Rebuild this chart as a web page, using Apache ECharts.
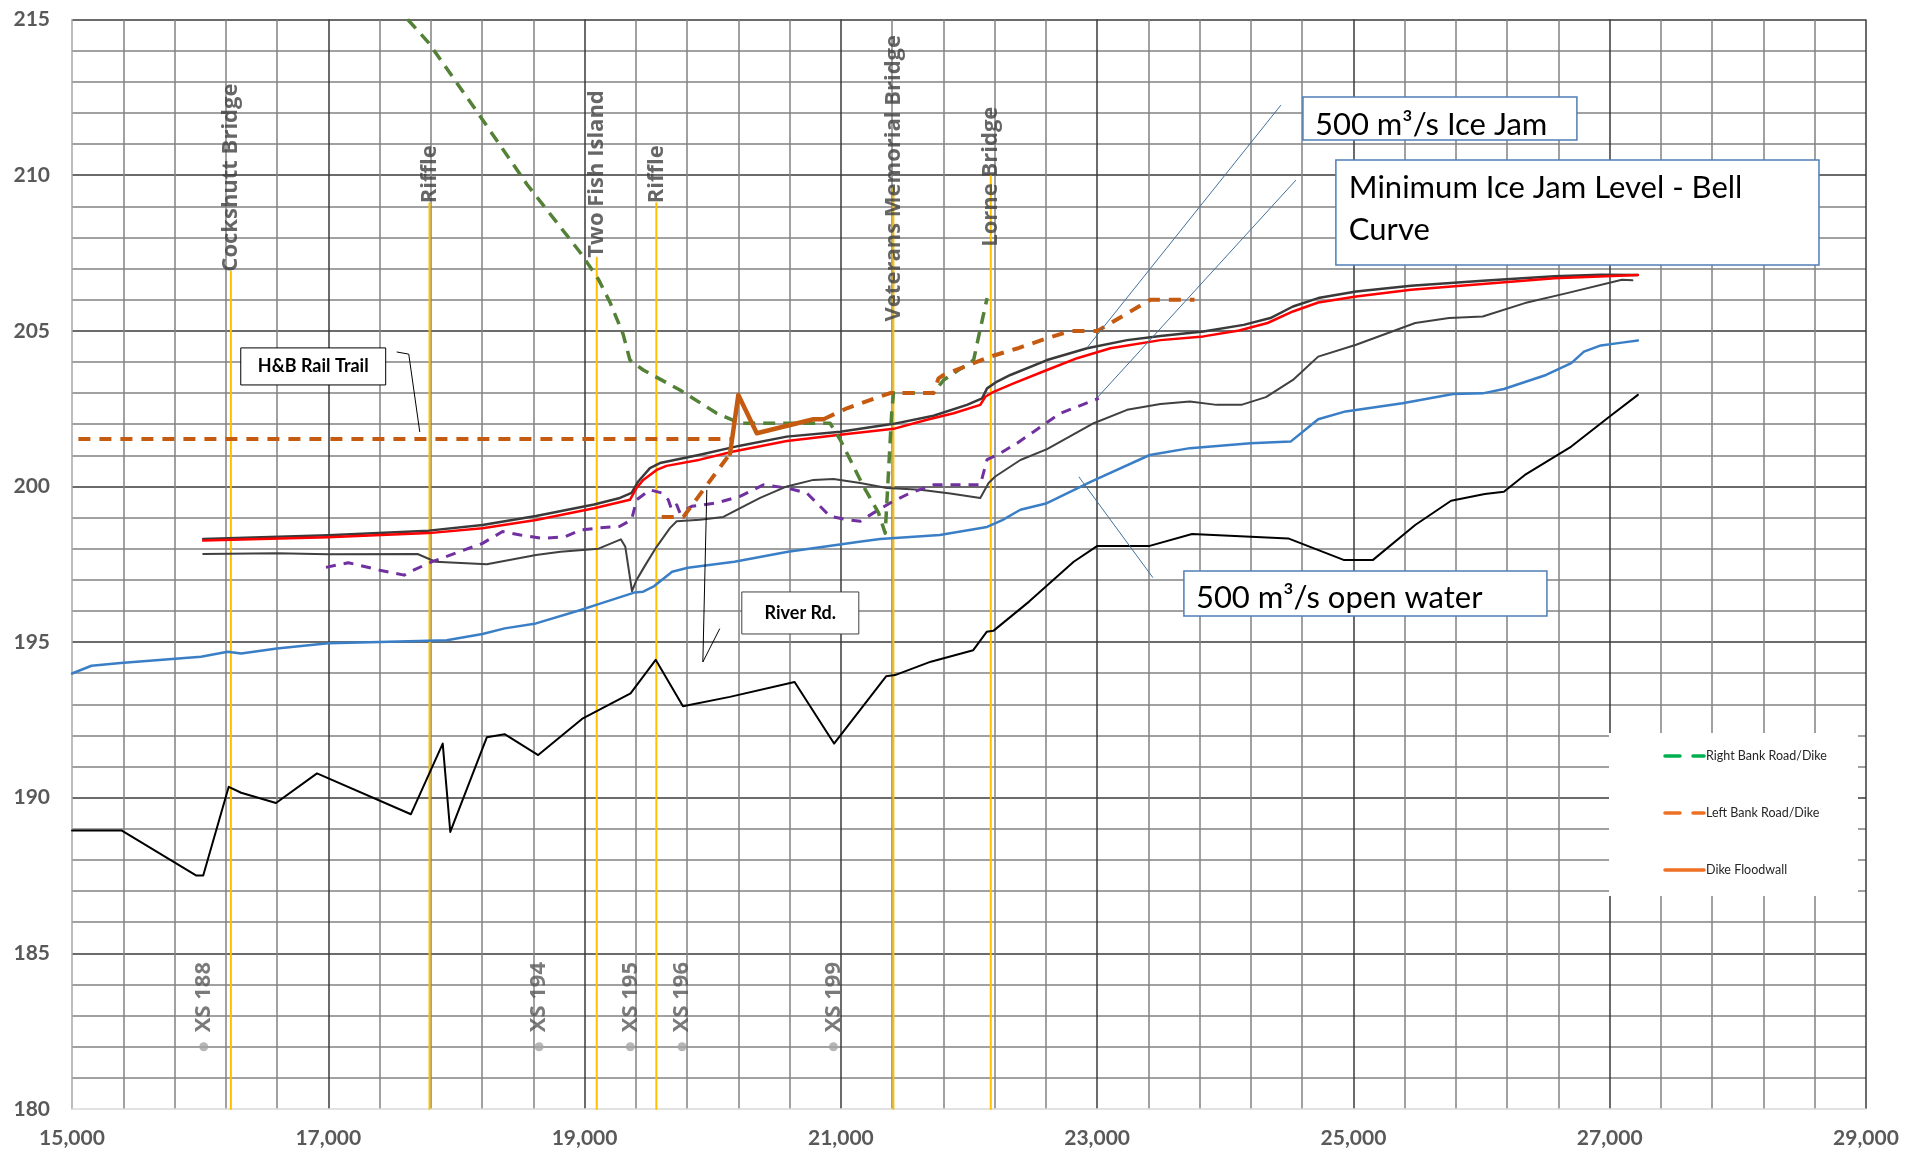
<!DOCTYPE html>
<html>
<head>
<meta charset="utf-8">
<title>Grand River Profile - Ice Jam Levels</title>
<script src="https://cdn.jsdelivr.net/npm/echarts@6/dist/echarts.min.js"></script>
<style>
  html, body { margin: 0; padding: 0; background: #ffffff; }
  #chart { width: 1911px; height: 1156px; }
</style>
</head>
<body>
<div id="chart"></div>
<script>
// Chainage (m) vs elevation (m) profile

// Channel bed (thalweg)
const channelBed = [
  [15000,188.95],[15386,188.95],[15971,187.5],[16024,187.5],[16223,190.35],[16320,190.16],
  [16592,189.83],[16912,190.78],[17645,189.47],[17893,191.74],[17952,188.9],[18237,191.94],
  [18376,192.04],[18638,191.37],[18987,192.55],[19359,193.35],[19555,194.43],[19768,192.94],
  [20134,193.24],[20639,193.72],[20947,191.74],[21353,193.9],[21423,193.94],[21702,194.37],
  [22033,194.74],[22138,195.33],[22190,195.36],[22469,196.3],[22817,197.58],[23002,198.09],
  [23410,198.09],[23741,198.47],[24491,198.33],[24923,197.64],[25153,197.64],[25482,198.76],
  [25762,199.54],[26025,199.76],[26174,199.83],[26338,200.37],[26700,201.28],[26997,202.24],
  [27220,202.94]
];

// 500 m3/s open water surface
const openWater500 = [
  [15000,193.99],[15152,194.24],[15379,194.33],[16006,194.53],[16215,194.69],[16320,194.63],
  [16599,194.79],[17000,194.96],[17401,195.0],[17924,195.06],[18203,195.26],[18377,195.44],
  [18621,195.6],[18969,196.03],[19109,196.22],[19387,196.59],[19457,196.62],[19544,196.8],
  [19683,197.26],[19806,197.39],[20169,197.58],[20587,197.9],[21144,198.22],[21307,198.31],
  [21772,198.44],[22141,198.7],[22260,198.92],[22401,199.25],[22608,199.46],[22957,200.16],
  [23410,201.01],[23724,201.23],[24198,201.39],[24510,201.44],[24725,202.16],[24939,202.41],
  [25383,202.67],[25778,202.97],[26009,202.99],[26174,203.13],[26503,203.58],[26700,203.96],
  [26799,204.33],[26931,204.53],[27095,204.62],[27220,204.69]
];

// 500 m3/s ice jam surface
const iceJam500 = [
  [16024,198.31],[17000,198.43],[17784,198.58],[18203,198.76],[18621,199.05],[19074,199.42],
  [19276,199.63],[19367,199.79],[19419,200.16],[19510,200.59],[19588,200.75],[19900,201.02],
  [20213,201.31],[20578,201.6],[20995,201.76],[21411,202.01],[21723,202.27],[21984,202.62],
  [22102,202.83],[22141,203.15],[22219,203.37],[22323,203.58],[22609,204.06],[22922,204.44],
  [23234,204.7],[23494,204.83],[23829,204.98],[24143,205.19],[24352,205.41],[24528,205.78],
  [24725,206.05],[25021,206.26],[25449,206.45],[26009,206.61],[26569,206.75],[26931,206.8],
  [27220,206.79]
];

// Ice jam surface (design)
const iceJamDesign = [
  [16024,198.26],[17000,198.37],[17784,198.5],[18203,198.66],[18621,198.92],[19074,199.3],
  [19354,199.57],[19406,199.95],[19458,200.21],[19562,200.53],[19640,200.66],[19900,200.86],
  [20161,201.12],[20578,201.46],[20995,201.66],[21411,201.85],[21672,202.14],[21880,202.35],
  [22088,202.62],[22127,202.88],[22192,203.04],[22348,203.31],[22609,203.74],[22844,204.12],
  [23104,204.44],[23494,204.7],[23829,204.82],[24108,205.01],[24330,205.25],[24528,205.62],
  [24725,205.91],[25021,206.1],[25449,206.32],[26009,206.5],[26569,206.69],[27220,206.79]
];

// Ice jam surface (lower run)
const iceJamLower = [
  [16024,197.83],[16599,197.85],[17000,197.82],[17697,197.83],[17837,197.58],[18237,197.5],
  [18621,197.8],[18812,197.9],[19109,198.0],[19283,198.3],[19318,198.06],[19370,196.64],
  [19405,196.99],[19475,197.48],[19562,198.06],[19666,198.66],[19719,198.88],[19900,198.93],
  [20083,199.02],[20188,199.25],[20370,199.63],[20578,200.0],[20786,200.21],[20942,200.24],
  [21151,200.11],[21359,199.95],[21620,199.89],[21854,199.77],[22088,199.63],[22153,200.11],
  [22205,200.32],[22401,200.85],[22609,201.2],[22973,202.03],[23234,202.46],[23494,202.65],
  [23724,202.73],[23932,202.62],[24125,202.62],[24317,202.87],[24528,203.42],[24725,204.17],
  [25021,204.55],[25482,205.25],[25746,205.41],[26009,205.46],[26338,205.89],[26667,206.21],
  [27095,206.64],[27177,206.62]
];

// Minimum ice jam level - bell curve
const minIceJamBell = [
  [16982,197.4],[17156,197.55],[17401,197.31],[17592,197.15],[17640,197.26],[17801,197.57],
  [18203,198.17],[18360,198.55],[18499,198.44],[18674,198.33],[18849,198.39],[18969,198.6],
  [19120,198.67],[19276,198.72],[19367,198.93],[19406,199.57],[19510,199.89],[19602,199.79],
  [19653,199.57],[19680,199.25],[19719,199.41],[19744,199.15],[19836,199.36],[20031,199.47],
  [20213,199.68],[20395,200.05],[20578,199.95],[20734,199.79],[20916,199.04],[21047,198.93],
  [21151,198.88],[21255,199.15],[21385,199.47],[21541,199.79],[21723,200.05],[22088,200.05],
  [22141,200.86],[22245,201.07],[22375,201.39],[22505,201.76],[22713,202.35],[22844,202.56],
  [23013,202.83]
];

// Left bank road / dike: H&B Rail Trail reach and River Rd. reach
const leftBankRailTrail = [[15050,201.52],[20150,201.52]];
const leftBankRiverRd = [
  [19602,199.02],[19771,199.02],[20135,201.05]
];
const leftBankUpper = [
  [20864,202.16],[21047,202.51],[21385,203.0],[21723,203.0],[21762,203.47],[21802,203.58],
  [22036,203.96],[22166,204.17],[22375,204.43],[22609,204.76],[22791,204.99],[23000,204.99],
  [23234,205.56],[23416,206.0],[23760,206.0]
];

// Dike floodwall
const dikeFloodwall = [
  [20135,201.05],[20200,202.94],[20344,201.71],[20786,202.16],[20864,202.16]
];

// Right bank road / dike
const rightBank = [
  [17620,215.0],[17784,214.25],[18167,212.0],[18551,209.7],[18969,207.5],[19109,206.65],
  [19200,205.9],[19300,204.9],[19354,204.06],[19458,203.74],[19744,203.1],[20031,202.35],
  [20213,202.03],[20916,202.03],[20995,201.5],[21177,200.0],[21294,199.15],[21346,198.5],
  [21398,202.46],[21411,203.0],[21723,203.0],[21802,203.42],[22036,204.06],[22075,204.81],
  [22141,206.05]
];

// Landmarks along the reach
const landmarkNames = ['Cockshutt Bridge', 'Riffle', 'Two Fish Island', 'Riffle', 'Veterans Memorial Bridge', 'Lorne Bridge'];
const landmarkChainage = [16240, 17790, 19095, 19560, 21410, 22170];
const landmarkLineTop = [206.9, 209.1, 207.35, 209.1, 209.6, 210.0];
const landmarkLabelBase = [206.9, 209.1, 207.35, 209.1, 205.3, 207.7];

// Surveyed cross sections
const xsNames = ['XS 188', 'XS 194', 'XS 195', 'XS 196', 'XS 199'];
const xsChainage = [16028, 18645, 19357, 19761, 20942];
const xsMarkerElev = [182, 182, 182, 182, 182];

// Axis ranges
const xRange = [15000, 29000, 2000];
const yRange = [180, 215, 5];

const FONT_LABEL = 'Lato, "Open Sans", sans-serif';
const FONT_MARK = '"Open Sans", "DejaVu Sans", sans-serif';

function lineSeries(name, data, color, width, dash, z) {
  return {
    name: name,
    type: 'line',
    data: data,
    symbol: 'none',
    showSymbol: false,
    silent: true,
    animation: false,
    z: z,
    lineStyle: {
      color: color,
      width: width,
      type: dash || 'solid',
      cap: dash ? 'butt' : 'round',
      join: 'round'
    },
    emphasis: { disabled: true }
  };
}

const series = [];

landmarkChainage.forEach(function (x, i) {
  series.push(lineSeries('landmark-' + i, [[x, yRange[0]], [x, landmarkLineTop[i]]], '#ffc000', 2, null, 2));
});

series.push(lineSeries('Channel Bed', channelBed, '#000000', 2, null, 3));
series.push(lineSeries('500 m³/s Open Water', openWater500, '#3a7fc6', 2.5, null, 3));
series.push(lineSeries('Ice Jam Lower', iceJamLower, '#404040', 2, null, 3));
series.push(lineSeries('500 m³/s Ice Jam', iceJam500, '#3a3a3a', 2.5, null, 3));
series.push(lineSeries('Ice Jam Design', iceJamDesign, '#ff0000', 2.5, null, 3));
series.push(lineSeries('Minimum Ice Jam Level - Bell Curve', minIceJamBell, '#7030a0', 3, [10, 8], 4));
series.push(lineSeries('Right Bank Road/Dike', rightBank, '#538135', 3.5, [12, 8], 4));
series.push(lineSeries('Left Bank Road/Dike', leftBankRailTrail, '#c55a11', 4, [12, 9], 5));
series.push(lineSeries('Left Bank Road/Dike', leftBankRiverRd, '#c55a11', 4, [12, 9], 5));
series.push(lineSeries('Left Bank Road/Dike', leftBankUpper, '#c55a11', 4, [12, 9], 5));
series.push(lineSeries('Dike Floodwall', dikeFloodwall, '#c55a11', 4.5, null, 5));

series.push({
  name: 'Landmarks',
  type: 'scatter',
  data: landmarkChainage.map(function (x, i) { return [x, landmarkLabelBase[i], landmarkNames[i]]; }),
  symbolSize: 0,
  silent: true,
  animation: false,
  z: 7,
  label: {
    show: true,
    formatter: function (p) { return p.data[2]; },
    position: 'top',
    distance: 0,
    rotate: 90,
    align: 'left',
    verticalAlign: 'middle',
    color: '#404040',
    fontFamily: FONT_MARK,
    fontWeight: 'bold',
    fontSize: 22
  }
});

series.push({
  name: 'Cross Sections',
  type: 'scatter',
  data: xsChainage.map(function (x, i) { return [x, xsMarkerElev[i], xsNames[i]]; }),
  symbol: 'circle',
  symbolSize: 9,
  itemStyle: { color: '#a5a5a5' },
  silent: true,
  animation: false,
  z: 7,
  label: {
    show: true,
    formatter: function (p) { return p.data[2]; },
    position: 'top',
    distance: 10,
    rotate: 90,
    align: 'left',
    verticalAlign: 'middle',
    color: '#595959',
    fontFamily: FONT_MARK,
    fontWeight: 'bold',
    fontSize: 22
  }
});

const option = {
  backgroundColor: '#ffffff',
  animation: false,
  grid: { left: 72, right: 45, top: 19.5, bottom: 47, outerBoundsMode: 'none', containLabel: false },
  xAxis: {
    type: 'value',
    min: xRange[0], max: xRange[1], interval: xRange[2],
    axisLine: { show: true, onZero: false, lineStyle: { color: '#d9d9d9', width: 1.5 } },
    axisTick: { show: false },
    axisLabel: {
      color: '#595959', fontFamily: FONT_LABEL, fontWeight: 'bold', fontSize: 21, margin: 19,
      formatter: function (v) { return v.toLocaleString('en-US'); }
    },
    splitLine: { show: true, showMinLine: false, lineStyle: { color: '#3a3a3a', width: 1.5 } },
    minorTick: { show: false, splitNumber: 5 },
    minorSplitLine: { show: true, lineStyle: { color: '#828282', width: 1.5 } }
  },
  yAxis: {
    type: 'value',
    min: yRange[0], max: yRange[1], interval: yRange[2],
    axisLine: { show: true, onZero: false, lineStyle: { color: '#a6a6a6', width: 1.5 } },
    axisTick: { show: false },
    axisLabel: { color: '#595959', fontFamily: FONT_LABEL, fontWeight: 'bold', fontSize: 21, margin: 22 },
    splitLine: { show: true, showMinLine: false, lineStyle: { color: '#3a3a3a', width: 1.5 } },
    minorTick: { show: false, splitNumber: 5 },
    minorSplitLine: { show: true, lineStyle: { color: '#828282', width: 1.5 } }
  },
  series: series
};

// Callout boxes, anchored in chainage/elevation space
const callouts = [
  { text: 'H&B Rail Trail', box: [16317, 204.45, 17448, 203.26], center: true, bold: true, size: 18,
    border: '#000000', borderWidth: 1, leader: [[17534, 204.32], [17628, 204.25], [17714, 201.75]], leaderColor: '#000000' },
  { text: 'River Rd.', box: [20227, 196.61, 21140, 195.26], center: true, bold: true, size: 18,
    border: '#404040', borderWidth: 1, leader: [[19954, 199.89], [19923, 194.36], [20055, 195.43]], leaderColor: '#000000' },
  { text: '500 m³/s Ice Jam', box: [24606, 212.51, 26744, 211.13], pad: [12, 28], size: 31,
    border: '#4f7fb5', borderWidth: 1.5, leader: [[24434, 212.25], [22920, 204.45]], leaderColor: '#41719c' },
  { text: 'Minimum Ice Jam Level - Bell\nCurve', box: [24863, 210.49, 28633, 207.11], pad: [13, 49], size: 31, lineHeight: 42,
    border: '#4f7fb5', borderWidth: 1.5, leader: [[24551, 209.84], [23005, 202.87]], leaderColor: '#41719c' },
  { text: '500 m³/s open water', box: [23677, 197.28, 26510, 195.84], pad: [12, 27], size: 31,
    border: '#4f7fb5', borderWidth: 1.5, leader: [[22857, 200.31], [23435, 197.07]], leaderColor: '#41719c' }
];

// Legend entries
const legendItems = [
  { name: 'Right Bank Road/Dike', color: '#00b050', dash: [15, 13] },
  { name: 'Left Bank Road/Dike', color: '#ee7024', dash: [15, 13] },
  { name: 'Dike Floodwall', color: '#ee7024', dash: null }
];

const chart = echarts.init(document.getElementById('chart'), null, { renderer: 'canvas' });
chart.setOption(option);

function buildGraphics() {
  const P = function (x, y) { return chart.convertToPixel({ gridIndex: 0 }, [x, y]); };
  const els = [];
  callouts.forEach(function (c) {
    els.push({
      type: 'polyline', silent: true, z: 20,
      shape: { points: c.leader.map(function (p) { return P(p[0], p[1]); }) },
      style: { stroke: c.leaderColor, lineWidth: 1, fill: 'none' }
    });
    const a = P(c.box[0], c.box[1]);
    const b = P(c.box[2], c.box[3]);
    els.push({
      type: 'rect', silent: true, z: 21,
      shape: { x: a[0], y: a[1], width: b[0] - a[0], height: b[1] - a[1] },
      style: { fill: '#ffffff', stroke: c.border, lineWidth: c.borderWidth }
    });
    const tx = c.center ? (a[0] + b[0]) / 2 : a[0] + c.pad[0];
    const ty = c.center ? (a[1] + b[1]) / 2 : a[1] + c.pad[1];
    els.push({
      type: 'text', silent: true, z: 22,
      x: tx, y: ty,
      style: {
        text: c.text,
        fill: '#000000',
        fontFamily: FONT_LABEL,
        fontWeight: c.bold ? 'bold' : 'normal',
        fontSize: c.size,
        lineHeight: c.lineHeight || c.size,
        align: c.center ? 'center' : 'left',
        verticalAlign: 'middle'
      }
    });
  });

  // legend panel
  const lx = 1609, ly = 733, lw = 249, lh = 163;
  els.push({ type: 'rect', silent: true, z: 30, shape: { x: lx, y: ly, width: lw, height: lh }, style: { fill: '#ffffff' } });
  legendItems.forEach(function (it, i) {
    const cy = 756 + i * 57;
    els.push({
      type: 'line', silent: true, z: 31,
      shape: { x1: 1665, y1: cy, x2: 1704, y2: cy },
      style: { stroke: it.color, lineWidth: 3.5, lineDash: it.dash || null, lineCap: 'round' }
    });
    els.push({
      type: 'text', silent: true, z: 31, x: 1706, y: cy,
      style: { text: it.name, fill: '#262626', fontFamily: FONT_LABEL, fontSize: 12.5, align: 'left', verticalAlign: 'middle' }
    });
  });
  chart.setOption({ graphic: els });
}

buildGraphics();
</script>
</body>
</html>
